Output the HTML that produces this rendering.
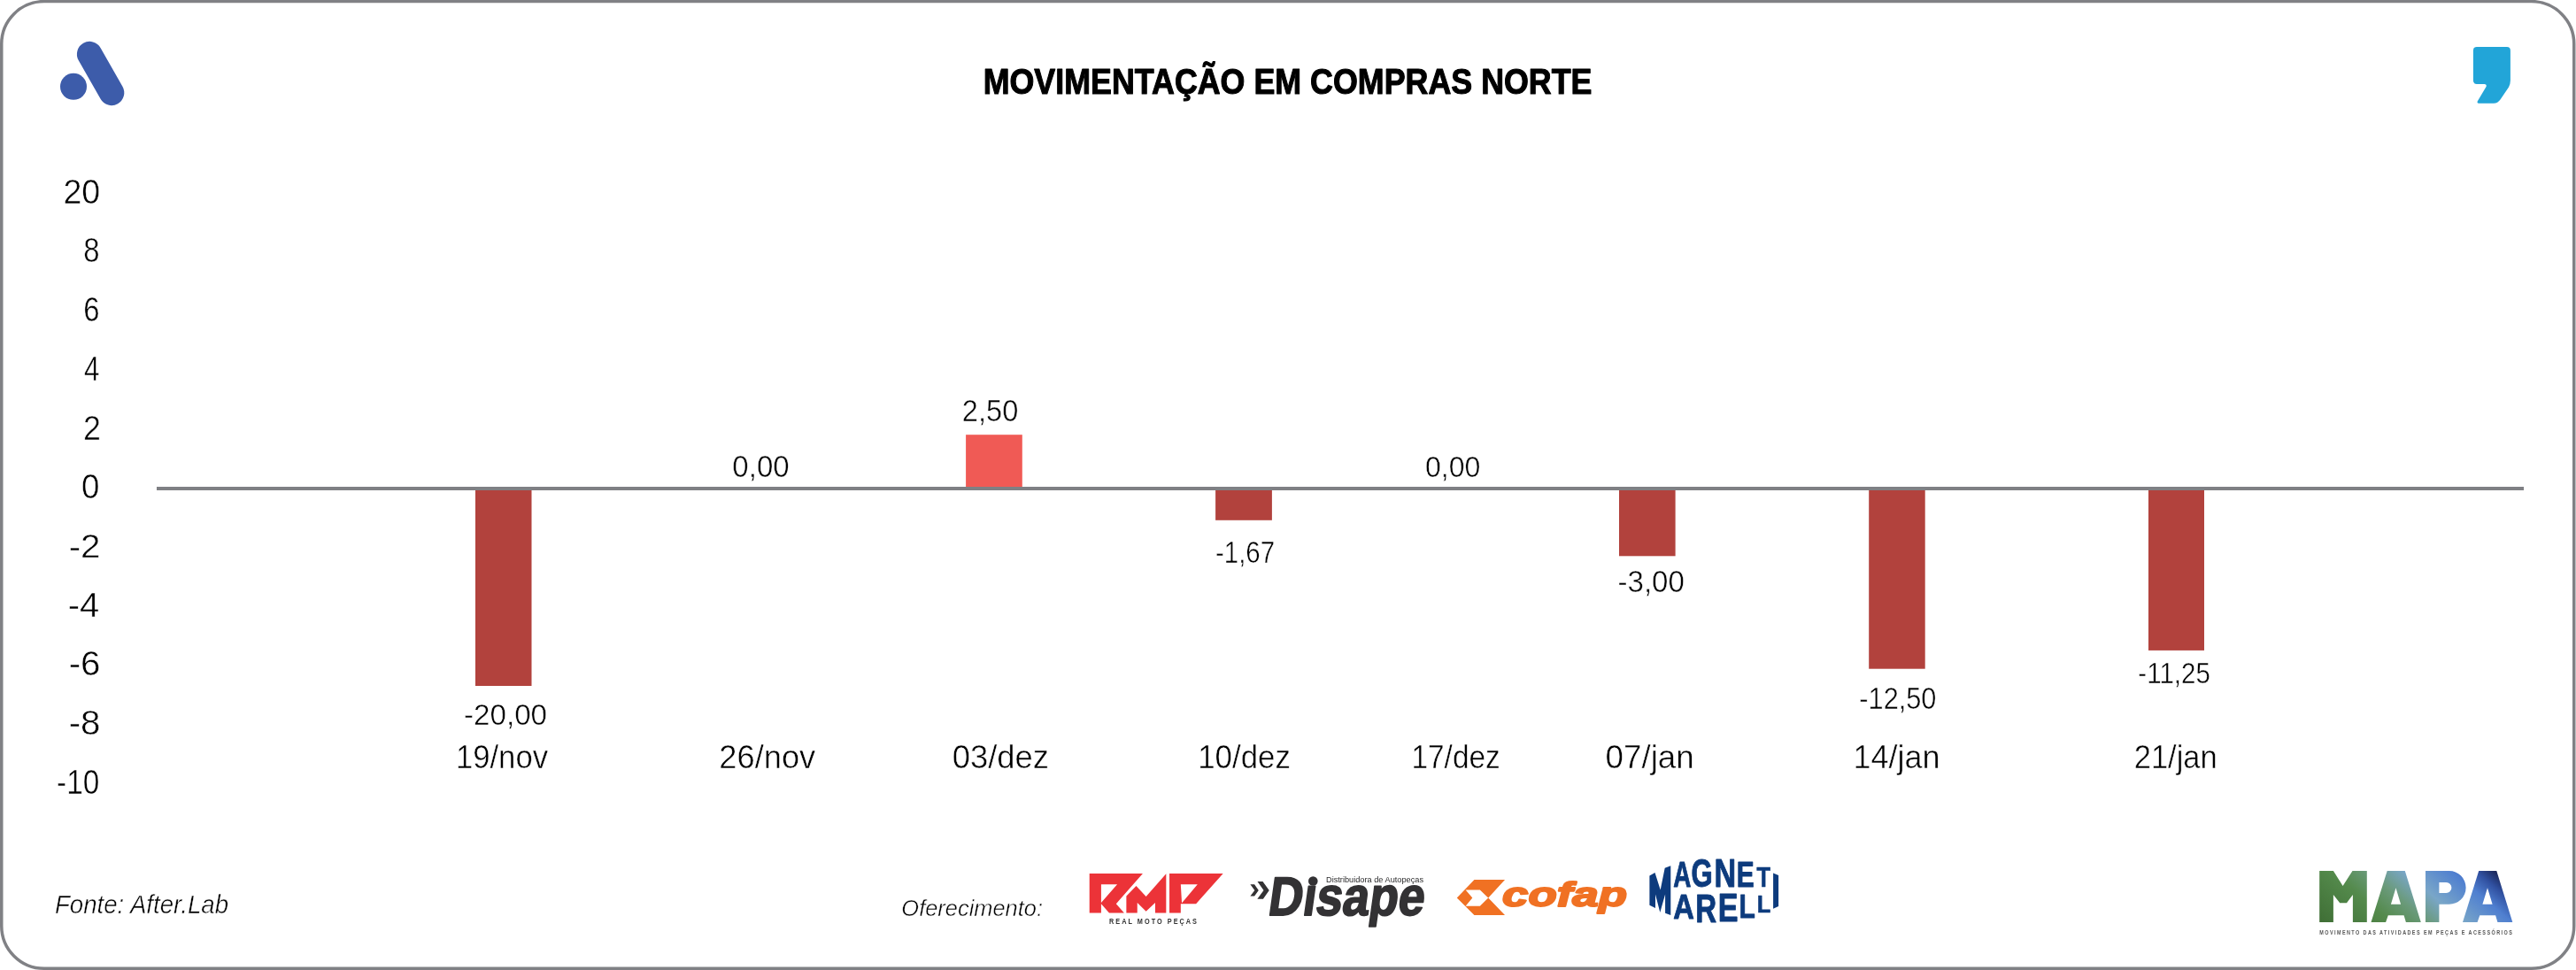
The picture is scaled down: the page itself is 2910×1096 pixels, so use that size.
<!DOCTYPE html>
<html><head><meta charset="utf-8"><style>
html,body{margin:0;padding:0;background:#fff;width:2910px;height:1096px;overflow:hidden}
svg{display:block;position:absolute;left:0;top:0;will-change:transform}
text{font-family:"Liberation Sans", sans-serif}
</style></head><body>
<svg width="2910" height="1096" viewBox="0 0 2910 1096">
<rect x="1.75" y="1.6" width="2906" height="1092.6" rx="48" ry="48" fill="#fff" stroke="#808185" stroke-width="3.5"/>
<circle cx="83" cy="97.85" r="15" fill="#3d5caa"/><line x1="101.2" y1="61.2" x2="126" y2="104.8" stroke="#3d5caa" stroke-width="28.6" stroke-linecap="round"/>
<path fill="#22a5d8" d="M2797.9,53 H2831.9 Q2835.9,53 2835.9,57 V91 Q2835.9,95 2834,98.5 L2824.5,112.5 Q2821.5,116.7 2817,116.7 H2800.5 Q2797.5,116.7 2799,114 L2808.5,98 Q2809.5,94.9 2806.5,94.9 H2797.9 Q2793.9,94.9 2793.9,90.9 V57 Q2793.9,53 2797.9,53 Z"/>
<rect x="177" y="550" width="2674" height="4" fill="#7f8084"/>
<rect x="537.0" y="554.0" width="63.5" height="221.0" fill="#b2423d"/>
<rect x="1091.1" y="491.2" width="63.7" height="58.8" fill="#f05a55"/>
<rect x="1373.1" y="554.0" width="63.8" height="33.8" fill="#b2423d"/>
<rect x="1829.0" y="554.0" width="63.6" height="74.3" fill="#b2423d"/>
<rect x="2111.2" y="554.0" width="63.5" height="201.7" fill="#b2423d"/>
<rect x="2427.0" y="554.0" width="63.0" height="180.9" fill="#b2423d"/>
<text x="1110.68" y="105.50" font-size="41.09" font-weight="bold" font-style="normal" fill="#000" textLength="687.83" lengthAdjust="spacingAndGlyphs" stroke="#000" stroke-width="1.1" stroke-linejoin="round">MOVIMENTAÇÃO EM COMPRAS NORTE</text>
<text x="71.39" y="230.00" font-size="38.10" font-weight="normal" font-style="normal" fill="#000" textLength="41.72" lengthAdjust="spacingAndGlyphs" stroke="#fff" stroke-width="0.5">20</text>
<text x="94.20" y="296.40" font-size="38.53" font-weight="normal" font-style="normal" fill="#000" textLength="18.25" lengthAdjust="spacingAndGlyphs" stroke="#fff" stroke-width="0.5">8</text>
<text x="94.20" y="363.20" font-size="38.29" font-weight="normal" font-style="normal" fill="#000" textLength="18.25" lengthAdjust="spacingAndGlyphs" stroke="#fff" stroke-width="0.5">6</text>
<text x="94.94" y="430.20" font-size="37.96" font-weight="normal" font-style="normal" fill="#000" textLength="17.38" lengthAdjust="spacingAndGlyphs" stroke="#fff" stroke-width="0.5">4</text>
<text x="94.01" y="496.60" font-size="38.38" font-weight="normal" font-style="normal" fill="#000" textLength="19.91" lengthAdjust="spacingAndGlyphs" stroke="#fff" stroke-width="0.5">2</text>
<text x="91.97" y="563.00" font-size="38.82" font-weight="normal" font-style="normal" fill="#000" textLength="20.42" lengthAdjust="spacingAndGlyphs" stroke="#fff" stroke-width="0.5">0</text>
<text x="77.70" y="630.40" font-size="37.82" font-weight="normal" font-style="normal" fill="#000" textLength="35.82" lengthAdjust="spacingAndGlyphs" stroke="#fff" stroke-width="0.5">-2</text>
<text x="76.79" y="696.80" font-size="38.24" font-weight="normal" font-style="normal" fill="#000" textLength="35.53" lengthAdjust="spacingAndGlyphs" stroke="#fff" stroke-width="0.5">-4</text>
<text x="77.70" y="763.20" font-size="38.67" font-weight="normal" font-style="normal" fill="#000" textLength="35.82" lengthAdjust="spacingAndGlyphs" stroke="#fff" stroke-width="0.5">-6</text>
<text x="77.70" y="829.90" font-size="38.81" font-weight="normal" font-style="normal" fill="#000" textLength="35.82" lengthAdjust="spacingAndGlyphs" stroke="#fff" stroke-width="0.5">-8</text>
<text x="64.06" y="897.00" font-size="38.10" font-weight="normal" font-style="normal" fill="#000" textLength="48.21" lengthAdjust="spacingAndGlyphs" stroke="#fff" stroke-width="0.5">-10</text>
<text x="523.94" y="819.00" font-size="34.10" font-weight="normal" font-style="normal" fill="#000" textLength="94.14" lengthAdjust="spacingAndGlyphs" stroke="#fff" stroke-width="0.5">-20,00</text>
<text x="827.33" y="538.80" font-size="34.83" font-weight="normal" font-style="normal" fill="#000" textLength="64.37" lengthAdjust="spacingAndGlyphs" stroke="#fff" stroke-width="0.5">0,00</text>
<text x="1086.87" y="475.80" font-size="34.67" font-weight="normal" font-style="normal" fill="#000" textLength="63.43" lengthAdjust="spacingAndGlyphs" stroke="#fff" stroke-width="0.5">2,50</text>
<text x="1372.95" y="636.20" font-size="34.52" font-weight="normal" font-style="normal" fill="#000" textLength="67.15" lengthAdjust="spacingAndGlyphs" stroke="#fff" stroke-width="0.5">-1,67</text>
<text x="1609.95" y="539.40" font-size="33.80" font-weight="normal" font-style="normal" fill="#000" textLength="62.53" lengthAdjust="spacingAndGlyphs" stroke="#fff" stroke-width="0.5">0,00</text>
<text x="1827.52" y="668.60" font-size="34.69" font-weight="normal" font-style="normal" fill="#000" textLength="75.34" lengthAdjust="spacingAndGlyphs" stroke="#fff" stroke-width="0.5">-3,00</text>
<text x="2100.36" y="800.80" font-size="35.31" font-weight="normal" font-style="normal" fill="#000" textLength="87.08" lengthAdjust="spacingAndGlyphs" stroke="#fff" stroke-width="0.5">-12,50</text>
<text x="2415.31" y="771.60" font-size="34.10" font-weight="normal" font-style="normal" fill="#000" textLength="81.59" lengthAdjust="spacingAndGlyphs" stroke="#fff" stroke-width="0.5">-11,25</text>
<text x="514.88" y="867.80" font-size="36.52" font-weight="normal" font-style="normal" fill="#000" textLength="104.17" lengthAdjust="spacingAndGlyphs" stroke="#fff" stroke-width="0.5">19/nov</text>
<text x="812.37" y="867.80" font-size="36.52" font-weight="normal" font-style="normal" fill="#000" textLength="108.83" lengthAdjust="spacingAndGlyphs" stroke="#fff" stroke-width="0.5">26/nov</text>
<text x="1075.74" y="867.80" font-size="36.52" font-weight="normal" font-style="normal" fill="#000" textLength="109.33" lengthAdjust="spacingAndGlyphs" stroke="#fff" stroke-width="0.5">03/dez</text>
<text x="1353.22" y="867.80" font-size="36.52" font-weight="normal" font-style="normal" fill="#000" textLength="104.69" lengthAdjust="spacingAndGlyphs" stroke="#fff" stroke-width="0.5">10/dez</text>
<text x="1594.50" y="867.80" font-size="36.52" font-weight="normal" font-style="normal" fill="#000" textLength="100.17" lengthAdjust="spacingAndGlyphs" stroke="#fff" stroke-width="0.5">17/dez</text>
<text x="1813.55" y="867.80" font-size="36.52" font-weight="normal" font-style="normal" fill="#000" textLength="100.13" lengthAdjust="spacingAndGlyphs" stroke="#fff" stroke-width="0.5">07/jan</text>
<text x="2093.43" y="867.80" font-size="36.52" font-weight="normal" font-style="normal" fill="#000" textLength="98.14" lengthAdjust="spacingAndGlyphs" stroke="#fff" stroke-width="0.5">14/jan</text>
<text x="2410.69" y="867.80" font-size="36.52" font-weight="normal" font-style="normal" fill="#000" textLength="94.03" lengthAdjust="spacingAndGlyphs" stroke="#fff" stroke-width="0.5">21/jan</text>
<text x="61.99" y="1032.00" font-size="28.78" font-weight="normal" font-style="italic" fill="#000" textLength="196.03" lengthAdjust="spacingAndGlyphs" stroke="#fff" stroke-width="0.5">Fonte: After.Lab</text>
<text x="1018.37" y="1035.40" font-size="26.19" font-weight="normal" font-style="italic" fill="#000" textLength="159.65" lengthAdjust="spacingAndGlyphs" stroke="#fff" stroke-width="0.5">Oferecimento:</text>
<path fill="#ec3338" fill-rule="evenodd" d="M1230.72,986.96 L1290.93,986.96 L1260.83,1021.19 L1269.90,1031.50 L1252.99,1031.50 L1243.92,1021.19 L1243.92,1031.50 L1230.72,1031.50 Z M1243.92,999.33 L1262.07,999.33 L1243.92,1019.95 Z M1272.38,1012.53 L1283.51,1000.98 L1294.65,1012.94 L1317.33,987.37 L1317.33,1031.50 L1304.96,1031.50 L1304.96,1019.95 L1294.65,1029.85 L1284.75,1019.95 L1284.75,1031.50 L1272.38,1031.50 Z M1321.04,986.96 L1381.66,986.96 L1351.14,1021.19 L1333.82,1021.19 L1333.82,1031.50 L1321.04,1031.50 Z M1333.82,999.33 L1352.79,999.33 L1335.06,1020.36 Z"/><g transform="translate(1253,1044.3) scale(0.85,1)"><text x="0" y="0" font-size="8.6" font-weight="bold" fill="#333" textLength="116.47" lengthAdjust="spacing">REAL MOTO PEÇAS</text></g>
<path fill="#333234" d="M1412.38,999.34 L1417.08,999.34 L1421.78,1005.92 L1417.08,1012.58 L1412.38,1012.58 L1417.34,1005.92 Z M1420.50,995.92 L1426.48,995.92 L1433.73,1005.92 L1426.90,1015.82 L1420.33,1015.82 L1427.50,1005.92 Z"/><g transform="translate(1434,1033.9) skewX(-8)"><text x="-3" y="0" font-size="61.60" font-weight="bold" fill="#333234" stroke="#333234" stroke-width="1.8" stroke-linejoin="round" textLength="176.5" lengthAdjust="spacingAndGlyphs">Disape</text></g><rect x="1474" y="985" width="16" height="13.5" fill="#fff"/><circle cx="1483.3" cy="995.5" r="5.3" fill="#333234"/><text x="1498" y="996.8" font-size="8.6" font-weight="normal" fill="#2a2a2b" textLength="110" lengthAdjust="spacingAndGlyphs">Distribuidora de Autopeças</text>
<path fill="#f07123" fill-rule="evenodd" d="M1645.80,1014.46 L1665.44,993.97 L1700.03,993.97 L1681.24,1014.46 L1700.03,1034.11 L1665.44,1034.11 Z M1655.62,1005.50 L1671.85,1005.50 L1681.24,1014.46 L1671.85,1023.86 L1655.62,1023.86 L1663.31,1014.46 Z"/><text x="1697" y="1024.3" font-size="39.5" font-weight="bold" font-style="italic" fill="#f07123" stroke="#f07123" stroke-width="2" stroke-linejoin="round" textLength="141" lengthAdjust="spacingAndGlyphs">cofap</text>
<g fill="#0d3b7d"><path d="M1863.40,989.40 L1869.50,986.10 L1875.70,1005.40 L1880.70,980.70 L1887.30,978.20 L1887.30,1033.90 L1881.10,1031.80 L1881.10,1010.40 L1875.30,1031.00 L1870.00,1010.40 L1870.00,1026.00 L1863.40,1022.70 Z M2003.10,986.50 L2009.10,989.00 L2009.10,1024.00 L2003.10,1026.80 Z"/><g stroke="#0d3b7d" stroke-width="2.2" stroke-linejoin="round"><text transform="translate(1890.30,1002.04) scale(0.2784,0.3993)" font-size="100" font-weight="bold">A</text><text transform="translate(1910.60,1002.04) scale(0.3111,0.4513)" font-size="100" font-weight="bold">G</text><text transform="translate(1936.50,1002.04) scale(0.3413,0.4526)" font-size="100" font-weight="bold">N</text><text transform="translate(1961.82,1002.04) scale(0.2998,0.3981)" font-size="100" font-weight="bold">E</text><text transform="translate(1984.42,1002.04) scale(0.2541,0.3104)" font-size="100" font-weight="bold">T</text><text transform="translate(1890.18,1038.14) scale(0.3268,0.3915)" font-size="100" font-weight="bold">A</text><text transform="translate(1915.23,1042.15) scale(0.3308,0.4498)" font-size="100" font-weight="bold">R</text><text transform="translate(1940.67,1041.45) scale(0.3412,0.4396)" font-size="100" font-weight="bold">E</text><text transform="translate(1964.60,1037.16) scale(0.3006,0.3773)" font-size="100" font-weight="bold">L</text><text transform="translate(1984.85,1030.71) scale(0.2554,0.2835)" font-size="100" font-weight="bold">L</text></g></g>
<defs><linearGradient id="mapag" x1="2620" y1="1042" x2="2734.5" y2="907.5" gradientUnits="userSpaceOnUse">
<stop offset="0" stop-color="#3f6e35"/><stop offset="0.3" stop-color="#548a4c"/><stop offset="0.45" stop-color="#6a9a7a"/><stop offset="0.6" stop-color="#79a6c8"/><stop offset="0.8" stop-color="#4f7fd0"/><stop offset="0.9" stop-color="#3050a0"/><stop offset="1" stop-color="#151c46"/></linearGradient></defs><path fill="url(#mapag)" fill-rule="evenodd" d="M2620.20,984.10 L2635.90,984.10 L2646.60,1000.90 L2657.50,984.10 L2673.80,984.10 L2673.80,1041.90 L2657.90,1041.90 L2657.90,1010.90 L2651.00,1020.20 L2643.20,1020.20 L2635.90,1010.90 L2635.90,1041.90 L2620.20,1041.90 Z M2696.70,984.10 L2716.80,984.10 L2734.80,1041.90 L2717.90,1041.90 L2715.60,1034.20 L2697.80,1034.20 L2695.10,1041.90 L2678.50,1041.90 Z M2706.50,1003.20 L2712.10,1021.80 L2700.90,1021.80 Z M2740,984.1 H2766.75 A18.85,18.85 0 0 1 2766.75,1021.8 H2755.4 V1041.9 H2740 Z M2755.4,997 H2763.4 A6,6 0 0 1 2763.4,1009 H2755.4 Z"/><path fill="url(#mapag)" fill-rule="evenodd" d="M2800.20,984.10 L2820.30,984.10 L2838.30,1041.90 L2821.40,1041.90 L2819.10,1034.20 L2801.30,1034.20 L2798.60,1041.90 L2782.00,1041.90 Z M2810.00,1003.20 L2815.60,1021.80 L2804.40,1021.80 Z"/><g transform="translate(2620.3,1056.2) scale(0.72,1)"><text x="0" y="0" font-size="7.6" font-weight="bold" fill="#555" textLength="302.08" lengthAdjust="spacing">MOVIMENTO DAS ATIVIDADES EM PEÇAS E ACESSÓRIOS</text></g>
</svg>
</body></html>
